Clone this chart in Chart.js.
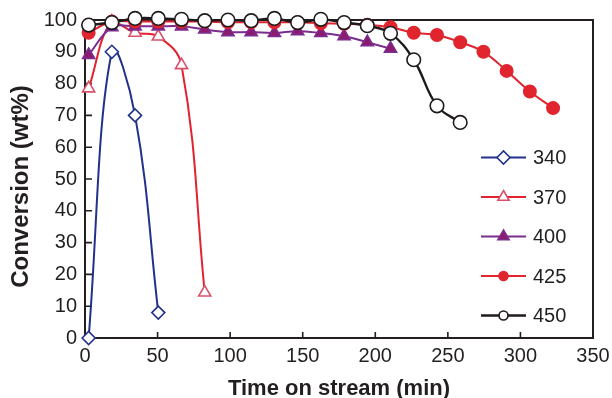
<!DOCTYPE html>
<html>
<head>
<meta charset="utf-8">
<script src="https://cdn.jsdelivr.net/npm/chart.js@4/dist/chart.umd.min.js"></script>
<style>
  html, body { margin: 0; padding: 0; background: #fff; }
  #wrap { width: 612px; height: 398px; }
</style>
</head>
<body>
<div id="wrap"><canvas id="c" width="612" height="398"></canvas></div>
<script>
// Sampling times (min) and conversion (wt%) at each reaction temperature
const times = [2.5, 18.5, 34.5, 50.5, 66.5, 82.5, 98.5, 114.5, 130.5, 146.5, 162.5,
               178.5, 194.5, 210.5, 226.5, 242.5, 258.5, 274.5, 290.5, 306.5, 322.5];
const conv340 = [0, 90, 70, 8];
const conv370 = [78.5, 99.5, 96, 94.8, 85.8, 14.3];
const conv400 = [89, 97.7, 98, 98, 98, 97, 96.2, 96.2, 95.9, 96.5, 95.9, 94.9, 93, 91];
const conv425 = [96, 99.5, 99.5, 99.5, 99.5, 99.5, 99.3, 99.3, 99.3, 99.3, 99, 98.8,
                 98.5, 97.7, 96, 95.3, 93, 90, 84, 77.5, 72.3];
const conv450 = [98.4, 99.2, 100.5, 100.5, 100.2, 99.8, 100, 99.8, 100.5, 99.2, 100.2,
                 99.2, 98.2, 95.8, 87.5, 73, 67.8];
const seriesLabels = ['340', '370', '400', '425', '450'];
const xTickValues = [0, 50, 100, 150, 200, 250, 300, 350];
const yTickValues = [0, 10, 20, 30, 40, 50, 60, 70, 80, 90, 100];
const xTitle = 'Time on stream (min)';
const yTitle = 'Conversion (wt%)';

const FONT = '"Liberation Sans", Arial, Helvetica, sans-serif';
const INK = '#231f20';

function pts(vals) {
  return vals.map((v, i) => ({ x: times[i], y: v }));
}

const styles = [
  { color: '#22318c', pointStyle: 'rectRot', bg: '#ffffff', pb: '#22318c', r: 6.5, lr: 6.5 },
  { color: '#e2222e', pointStyle: 'triangle', bg: '#ffffff', pb: '#d8506a', r: 7, lr: 6.5 },
  { color: '#7b2c8f', pointStyle: 'triangle', bg: '#8c1b6e', pb: '#7b2c8f', r: 7, lr: 6.5 },
  { color: '#e0252f', pointStyle: 'circle', bg: '#e0252f', pb: '#e0252f', r: 6.2, lr: 4.5 },
  { color: '#1f1a1c', pointStyle: 'circle', bg: '#ffffff', pb: '#1f1a1c', r: 6.8, lr: 4.5 }
];
const seriesValues = [conv340, conv370, conv400, conv425, conv450];

const datasets = seriesValues.map((vals, i) => ({
  label: seriesLabels[i],
  data: pts(vals),
  borderColor: styles[i].color,
  borderWidth: i === 4 ? 2.4 : 2,
  pointStyle: styles[i].pointStyle,
  pointRadius: styles[i].r,
  pointBackgroundColor: styles[i].bg,
  pointBorderColor: styles[i].pb,
  pointBorderWidth: 1.6,
  tension: 0.4,
  fill: false,
  clip: false,
  order: 5 - i,
  legendRadius: styles[i].lr
}));

function marker(ctx, style, r, x, y) {
  if (Chart.helpers && Chart.helpers.drawPoint) {
    Chart.helpers.drawPoint(ctx, { pointStyle: style, radius: r, rotation: 0, borderWidth: ctx.lineWidth }, x, y);
  }
}

// Frame, inward tick marks, axis titles and the series key
const decor = {
  id: 'decor',
  beforeDatasetsDraw(chart) {
    const { ctx, chartArea: a, scales: { x, y } } = chart;
    ctx.save();
    ctx.strokeStyle = INK;
    ctx.lineWidth = 1.6;
    ctx.beginPath();
    xTickValues.forEach(v => {
      const px = x.getPixelForValue(v);
      ctx.moveTo(px, a.bottom); ctx.lineTo(px, a.bottom - 6);
    });
    yTickValues.forEach(v => {
      const py = y.getPixelForValue(v);
      ctx.moveTo(a.left, py); ctx.lineTo(a.left + 7, py);
    });
    ctx.stroke();
    ctx.lineWidth = 2;
    ctx.strokeRect(a.left, a.top, a.right - a.left, a.bottom - a.top);
    ctx.restore();
  },
  afterDraw(chart) {
    const { ctx, chartArea: a } = chart;
    ctx.save();
    ctx.fillStyle = INK;
    ctx.textAlign = 'center';
    ctx.textBaseline = 'alphabetic';
    ctx.font = 'bold 22px ' + FONT;
    ctx.fillText(xTitle, (a.left + a.right) / 2, 395);
    ctx.font = 'bold 24px ' + FONT;
    ctx.translate(27.5, 186.5);
    ctx.rotate(-Math.PI / 2);
    ctx.fillText(yTitle, 0, 0);
    ctx.restore();

    // key
    ctx.save();
    chart.data.datasets.forEach((ds, i) => {
      const yy = 157.5 + 39.5 * i;
      ctx.strokeStyle = ds.borderColor;
      ctx.lineWidth = ds.borderWidth;
      ctx.beginPath();
      ctx.moveTo(481, yy); ctx.lineTo(526, yy);
      ctx.stroke();
      ctx.fillStyle = ds.pointBackgroundColor;
      ctx.strokeStyle = ds.pointBorderColor;
      ctx.lineWidth = ds.pointBorderWidth;
      marker(ctx, ds.pointStyle, ds.legendRadius, 503.5, yy);
      ctx.fillStyle = INK;
      ctx.font = '20px ' + FONT;
      ctx.textAlign = 'left';
      ctx.textBaseline = 'middle';
      ctx.fillText(ds.label, 533, yy + 1);
    });
    ctx.restore();
  }
};

new Chart(document.getElementById('c'), {
  type: 'line',
  data: { datasets },
  plugins: [decor],
  options: {
    responsive: false,
    animation: false,
    devicePixelRatio: 1,
    layout: { padding: { left: 0, right: 19, top: 20, bottom: 0 } },
    plugins: { legend: { display: false }, tooltip: { enabled: false } },
    scales: {
      x: {
        type: 'linear', min: 0, max: 350,
        afterBuildTicks(s) { s.ticks = xTickValues.map(v => ({ value: v })); },
        ticks: { font: { family: FONT, size: 20 }, color: INK, padding: 6, maxRotation: 0, autoSkip: false },
        grid: { display: false, drawTicks: false },
        border: { display: false },
        afterFit(s) { s.height = 60; s.paddingLeft = 0; s.paddingRight = 0; }
      },
      y: {
        type: 'linear', min: 0, max: 100,
        afterBuildTicks(s) { s.ticks = yTickValues.map(v => ({ value: v })); },
        ticks: { font: { family: FONT, size: 20 }, color: INK, padding: 8, autoSkip: false },
        grid: { display: false, drawTicks: false },
        border: { display: false },
        afterFit(s) { s.width = 85; s.paddingTop = 0; s.paddingBottom = 0; }
      }
    }
  }
});
</script>
</body>
</html>
